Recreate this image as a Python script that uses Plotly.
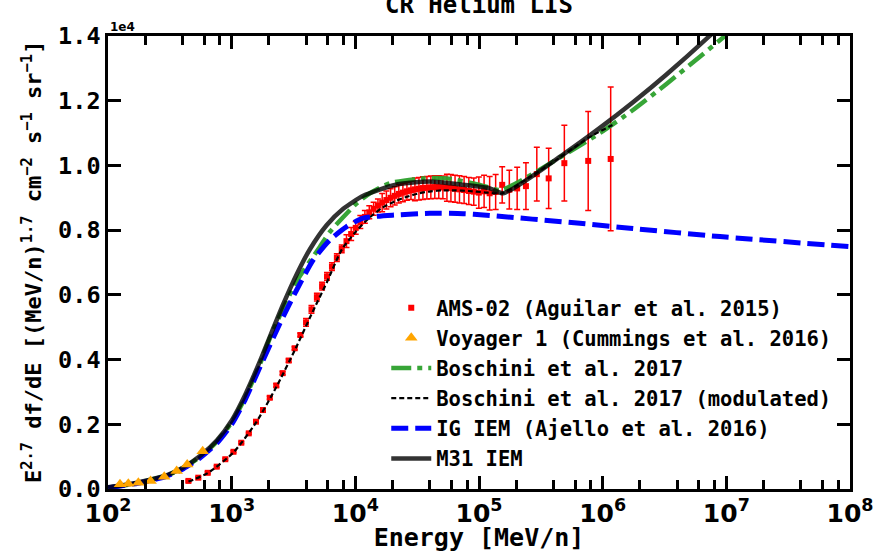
import plotly.graph_objects as go

# ---------------- data (y in units of 1e4) ----------------
ams_E = [447, 537, 640, 757, 888, 1034, 1196, 1375, 1573, 1792, 2033, 2295, 2581, 2892, 3230, 3596,
         3993, 4420, 4888, 5383, 5902, 6471, 7091, 7762, 8482, 9253, 10075, 10970, 11943, 12965,
         14061, 15234, 16481, 17829, 19276, 20824, 22471, 24244, 26142, 28164, 30337, 32684, 35207,
         37904, 40802, 43924, 47296, 51038, 55041, 59284, 64027, 69511, 75756, 82740, 90725, 99711,
         109932, 121902, 136337, 154016, 175896, 203486, 239656, 293390, 366000, 490000, 763920, 1160970]
ams_y = [0.025, 0.035, 0.050, 0.069, 0.092, 0.115, 0.143, 0.172, 0.208, 0.244, 0.282, 0.320, 0.358,
         0.397, 0.435, 0.476, 0.515, 0.555, 0.593, 0.627, 0.657, 0.687, 0.715, 0.742, 0.766, 0.788,
         0.807, 0.825, 0.841, 0.855, 0.866, 0.876, 0.885, 0.893, 0.900, 0.906, 0.912, 0.916, 0.920,
         0.923, 0.926, 0.928, 0.930, 0.931, 0.932, 0.933, 0.933, 0.932, 0.931, 0.930, 0.928, 0.926,
         0.924, 0.921, 0.919, 0.916, 0.920, 0.914, 0.918, 0.940, 0.925, 0.929, 0.936, 0.973, 0.960,
         1.007, 1.014, 1.020]
ams_err = [0.003] * 8 + [0.005] * 8 + [0.012] * 8 + [0.02] * 8 + [0.028] * 8 + [0.035] * 8 + \
          [0.042] * 7 + [0.048, 0.050, 0.052, 0.054, 0.056, 0.060] + \
          [0.065, 0.072, 0.083, 0.093, 0.117, 0.153, 0.222]

voy_E = [125, 146, 176, 221, 285, 359, 437, 583]
voy_y = [0.015, 0.016, 0.019, 0.025, 0.038, 0.056, 0.076, 0.117]

bos_E = [100, 159, 231, 300, 404, 554, 761, 1005, 1282, 1694, 2043, 2612, 3352, 5176, 6237, 10260,
         13130, 19050, 35400, 54700, 101600, 150000, 500000, 950000, 1770000, 3280000, 6110000,
         9730000, 14000000]
bos_y = [0.004, 0.016, 0.030, 0.042, 0.065, 0.099, 0.147, 0.207, 0.281, 0.386, 0.467, 0.559, 0.642,
         0.749, 0.795, 0.883, 0.914, 0.945, 0.960, 0.960, 0.940, 0.924, 1.035, 1.100, 1.172, 1.252,
         1.336, 1.400, 1.455]

mod_E = [447, 640, 1034, 1573, 2295, 3230, 4420, 5902, 7762, 10075, 12965, 16481, 20824, 26142,
         32684, 40802, 51038, 64027, 82740, 109932, 154016, 239656, 380120, 763920, 1200000]
mod_y = [0.023, 0.049, 0.113, 0.205, 0.315, 0.428, 0.540, 0.640, 0.740, 0.795, 0.838, 0.869, 0.889,
         0.903, 0.914, 0.920, 0.923, 0.923, 0.921, 0.917, 0.914, 0.956, 1.005, 1.085, 1.125]

ig_E = [100, 159, 231, 300, 404, 554, 761, 1005, 1282, 1694, 2455, 3352, 4570, 6237, 8510, 11580,
        21580, 40100, 74500, 108000, 655000, 1660000, 8870000, 100000000]
ig_y = [0.004, 0.015, 0.028, 0.040, 0.062, 0.096, 0.142, 0.201, 0.275, 0.377, 0.512, 0.615, 0.708,
        0.770, 0.811, 0.837, 0.847, 0.852, 0.851, 0.847, 0.821, 0.806, 0.780, 0.749]

m31_E = [100, 159, 231, 300, 404, 554, 761, 1005, 1282, 1694, 2043, 2612, 3352, 4293, 5857, 7983,
         11580, 21580, 40100, 74500, 122500, 157000, 500000, 950000, 1770000, 3280000, 7360000, 11000000]
m31_y = [0.005, 0.017, 0.031, 0.043, 0.066, 0.102, 0.151, 0.213, 0.290, 0.395, 0.472, 0.571, 0.663,
         0.741, 0.815, 0.866, 0.906, 0.941, 0.950, 0.940, 0.929, 0.914, 1.039, 1.116, 1.196, 1.281,
         1.401, 1.465]

x_tickvals = [1e2, 1e3, 1e4, 1e5, 1e6, 1e7, 1e8]
x_ticktext = ["10<sup>2</sup>", "10<sup>3</sup>", "10<sup>4</sup>", "10<sup>5</sup>",
              "10<sup>6</sup>", "10<sup>7</sup>", "10<sup>8</sup>"]
x_minor = [m * 10 ** d for d in range(2, 8) for m in (2, 4, 6, 8)]
y_tickvals = [0.0, 0.2, 0.4, 0.6, 0.8, 1.0, 1.2, 1.4]

MONO = "DejaVu Sans Mono"

fig = go.Figure()

fig.add_trace(go.Scatter(
    x=ams_E, y=ams_y, mode="markers", name="AMS-02 (Aguilar et al. 2015)",
    marker=dict(symbol="square", size=6, color="red"),
    error_y=dict(type="data", array=ams_err, color="red", thickness=1.5, width=3),
    legendrank=1, legendgroup="a"))

fig.add_trace(go.Scatter(
    x=bos_E, y=bos_y, mode="lines", name="Boschini et al. 2017",
    line=dict(color="rgba(44,160,44,0.95)", width=4.5, dash="20px,6px,5px,6px", shape="spline", smoothing=0.6),
    legendrank=3, legendgroup="c"))

fig.add_trace(go.Scatter(
    x=mod_E, y=mod_y, mode="lines", name="Boschini et al. 2017 (modulated)",
    line=dict(color="black", width=2.2, dash="5px,3px", shape="spline", smoothing=0.6),
    legendrank=4, legendgroup="d"))

fig.add_trace(go.Scatter(
    x=ig_E, y=ig_y, mode="lines", name="IG IEM (Ajello et al. 2016)",
    line=dict(color="#0000ff", width=5, dash="17px,7px", shape="spline", smoothing=0.6),
    legendrank=5, legendgroup="e"))

fig.add_trace(go.Scatter(
    x=m31_E, y=m31_y, mode="lines", name="M31 IEM",
    line=dict(color="rgba(0,0,0,0.8)", width=4.5, shape="spline", smoothing=0.6),
    legendrank=6, legendgroup="f"))

fig.add_trace(go.Scatter(
    x=voy_E, y=voy_y, mode="markers", name="Voyager 1 (Cummings et al. 2016)",
    marker=dict(symbol="triangle-up", size=11, color="orange"),
    legendrank=2, legendgroup="b"))

axis_common = dict(showline=True, linecolor="black", linewidth=2.5, mirror="allticks",
                   ticks="inside", tickcolor="black", tickwidth=2.5, showgrid=False, zeroline=False,
                   automargin=False)

fig.update_layout(
    width=875, height=552,
    margin=dict(l=108, r=25, t=36, b=63),
    paper_bgcolor="white", plot_bgcolor="white",
    font=dict(family=MONO, size=20, color="black", weight="bold"),
    showlegend=True,
    legend=dict(x=0.375, y=0.444, xanchor="left", yanchor="top", bgcolor="rgba(0,0,0,0)",
                font=dict(family=MONO, size=20.5, color="black", weight="bold"),
                tracegroupgap=0.5, itemwidth=40),
    xaxis=dict(type="log", range=[2, 8], tickvals=x_tickvals, ticktext=x_ticktext, ticklen=13,
               tickfont=dict(family="DejaVu Sans", size=25, weight="bold"),
               minor=dict(tickvals=x_minor, ticks="inside", ticklen=9, tickwidth=2.5, tickcolor="black"),
               title=dict(text="Energy [MeV/n]", font=dict(family=MONO, size=25, weight="bold"), standoff=6),
               **axis_common),
    yaxis=dict(range=[0, 1.4], tickvals=y_tickvals, tickformat=".1f", ticklen=13,
               tickfont=dict(family=MONO, size=23.5, weight="bold"),
               **axis_common),
)

fig.add_annotation(text="CR Helium LIS", xref="paper", yref="paper", x=0.5, y=1, yanchor="bottom",
                   yshift=15, showarrow=False, font=dict(family=MONO, size=24, weight="bold"))
fig.add_annotation(text="1e4", xref="paper", yref="paper", x=0, y=1, xanchor="left", yanchor="bottom",
                   yshift=0, showarrow=False, font=dict(family="DejaVu Sans", size=12))
fig.add_annotation(text="E<sup>2.7</sup> df/dE [(MeV/n)<sup>1.7</sup> cm<sup>\u22122</sup> s<sup>\u22121</sup> sr<sup>\u22121</sup>]",
                   xref="paper", yref="paper", x=-0.103, y=0.5, xanchor="center", yanchor="middle",
                   textangle=-90, showarrow=False, font=dict(family=MONO, size=22, weight="bold"))

fig.write_html("out.html")
